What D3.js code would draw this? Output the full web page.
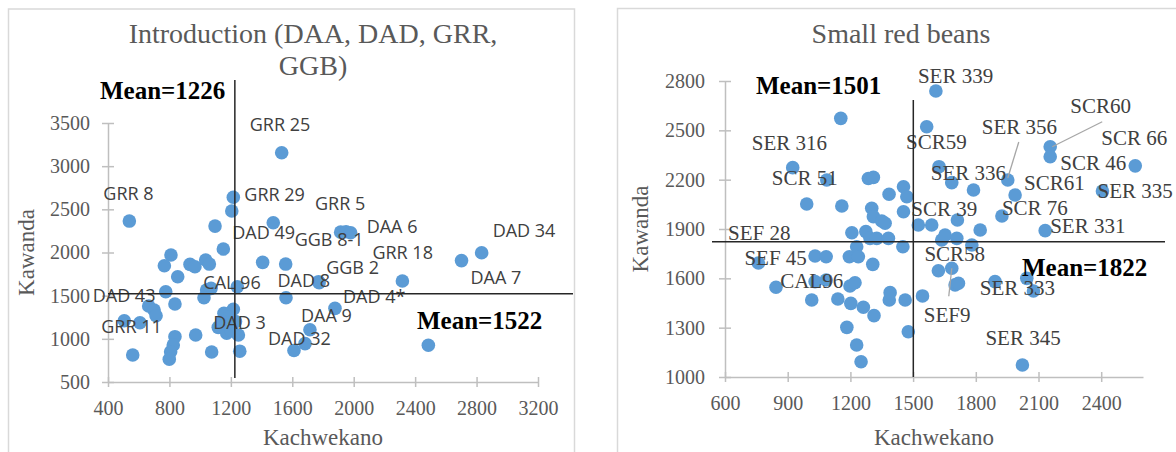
<!DOCTYPE html>
<html>
<head>
<meta charset="utf-8">
<title>Kachwekano vs Kawanda</title>
<script src="https://d3js.org/d3.v7.min.js"></script>
<style>
  body { margin: 0; background: #fff; }
  svg { display: block; }
</style>
</head>
<body>
<script>
// ---- data: Introduction (DAA, DAD, GRR, GGB) ----
var leftName = ["GRR 8","GRR 25","GRR 29","","","DAD 49","","","","","","","","","","",
  "GGB 8-1","GRR 5","DAA 6","DAD 8","GGB 2","GRR 18","DAD 34","DAA 7","","CAL 96","","","","","",
  "DAD 43","","","GRR 11","","","","","","","","","",
  "DAD 4*","DAA 9","DAD 32","","","DAD 3","","","","","","","",""];
var leftKach = [539,1531,1216,1206,1097,1476,1151,810,767,934,966,1036,1060,854,1407,1557,
  1915,1950,1980,1771,1775,2317,2833,2702,1559,1242,1042,1071,1025,776,836,
  665,700,713,506,608,836,825,808,799,561,971,1075,1258,
  1878,1715,1683,1611,2486,1216,1155,1118,1173,1249,1190,1140,1230,1200];
var leftKaw = [2364,3155,2640,2480,2306,2345,2040,1971,1847,1862,1835,1913,1866,1719,1886,1866,
  2236,2240,2228,1662,1650,1670,1997,1906,1476,1604,1565,1585,1476,1546,1403,
  1380,1334,1268,1210,1187,1025,928,851,763,813,1044,847,857,
  1353,1105,945,865,925,1342,1295,1133,1064,1044,1250,1200,1200,1100];
var leftMeans = [1226, 1522];
var leftXTicks = [400,800,1200,1600,2000,2400,2800,3200];
var leftYTicks = [500,1000,1500,2000,2500,3000,3500];

// ---- data: Small red beans ----
var rightName = ["SER 339","","","SER 316","SCR 51","","","","","","","","","","","","","","","",
  "","","","","","SEF 45","","CAL96","SEF 28","","","","","","","","","","","",
  "SCR59","SER 336","","SER 356","SCR60","SCR 46","SCR 66","SER 335","SCR61","SCR 76","SER 331","",
  "","","","SCR 39","","","","","","","","SCR58","SEF9","","","","SER 333","","","","","","SER 345"];
var rightKach = [1609,1154,1565,924,1087,991,1159,1286,1310,1385,1302,1310,1350,1366,1207,1274,1294,1326,1382,1230,
  1195,1238,1307,1031,1084,760,1031,1084,844,1198,1222,1015,1140,1202,1262,1313,1386,1183,1230,1251,
  1624,1685,1789,1953,2156,2156,2563,2406,1988,1925,2132,1712,
  1454,1470,1454,1525,1589,1821,1637,1653,1709,1781,1451,1621,1685,1701,1717,1892,2044,2076,1390,1462,1545,1477,2023];
var rightKaw = [2739,2573,2522,2273,2198,2052,2040,2207,2214,2111,2026,1975,1949,1935,1877,1884,1843,1843,1843,1792,
  1731,1731,1685,1736,1731,1693,1580,1590,1546,1553,1573,1468,1474,1448,1424,1373,1468,1302,1195,1093,
  2279,2182,2137,2198,2400,2339,2284,2131,2107,1979,1890,1955,
  2157,2096,2005,1924,1924,1894,1833,1863,1843,1803,1792,1646,1661,1560,1570,1580,1600,1523,1513,1468,1493,1275,1073,1079];
var rightMeans = [1501, 1822];
var rightXTicks = [600,900,1200,1500,1800,2100,2400];
var rightYTicks = [1000,1300,1600,1900,2200,2500,2800];

// label placement (px offsets from the point: start x, centre y)
var labelPos = {
  "GRR 8":[-26,-28], "GRR 25":[-32,-29], "GRR 29":[11,-3], "GRR 5":[-31,-29], "DAA 6":[16,-7],
  "GGB 8-1":[-46,7], "DAD 49":[-41,9], "CAL 96":[-34,-5], "DAD 8":[-41,-2], "GGB 2":[7,-16],
  "GRR 18":[-30,-29], "DAD 34":[11,-23], "DAA 7":[9,16], "DAD 4*":[8,-12], "DAA 9":[-9,-15],
  "DAD 32":[-37,-6], "DAD 3":[-20,13], "DAD 43":[-56,-11], "GRR 11":[-23,5],
  "SER 339":[-18,-15], "SER 316":[-41,-25], "SCR 51":[-55,-2], "SCR59":[-33,-25], "SER 356":[-26,-53],
  "SCR60":[20,-41], "SCR 46":[10,6], "SCR 66":[-34,-28], "SER 335":[-5,0], "SCR61":[9,-12],
  "SER 336":[-21,-10], "SCR 39":[-7,-16], "SCR 76":[0,-8], "SER 331":[5,-5], "SCR58":[-14,-17],
  "SEF9":[-28,47], "SER 333":[-47,10], "SER 345":[-37,-27], "SEF 28":[-48,-54], "SEF 45":[-14,-5],
  "CAL96":[-46,1]
};
var leaders = { "SER 356":[0,-2,11,-38], "SCR60":[2,0,52,-25], "SEF9":[0,0,-3,28] };

var W = 1176, H = 452;
var svg = d3.select("body").append("svg").attr("width", W).attr("height", H);
var serif = "'Liberation Serif', 'Times New Roman', serif";
var sans = "'Open Sans', 'Noto Sans', sans-serif";

// panel frames
svg.append("rect").attr("x", 8.5).attr("y", 9).attr("width", 566).attr("height", 460)
  .attr("fill", "#fff").attr("stroke", "#d9d9d9").attr("stroke-width", 1.5);
svg.append("rect").attr("x", 617.5).attr("y", 8.5).attr("width", 580).attr("height", 460)
  .attr("fill", "#fff").attr("stroke", "#d9d9d9").attr("stroke-width", 1.5);

function panel(opt) {
  var x = d3.scaleLinear().domain(opt.xDomain).range(opt.xRange);
  var y = d3.scaleLinear().domain(opt.yDomain).range(opt.yRange);
  var g = svg.append("g");
  var x0 = opt.xRange[0], yb = opt.yRange[0];

  var xa = g.append("g").attr("transform", "translate(0," + yb + ")")
    .call(d3.axisBottom(x).tickValues(opt.xTicks).tickSizeOuter(0).tickFormat(d3.format("d")));
  var ya = g.append("g").attr("transform", "translate(" + x0 + ",0)")
    .call(d3.axisLeft(y).tickValues(opt.yTicks).tickSizeOuter(0).tickFormat(d3.format("d")));
  [xa, ya].forEach(function(a) {
    a.select(".domain").attr("stroke", "#bfbfbf").attr("stroke-width", 1.5);
    a.selectAll(".tick line").attr("stroke", "#bfbfbf").attr("stroke-width", 1.5);
    a.selectAll(".tick text").attr("fill", "#595959").style("font-family", serif).style("font-size", "20px");
  });
  xa.selectAll(".tick line").attr("y1", -5).attr("y2", 5);
  xa.selectAll(".tick text").attr("y", 19);
  ya.selectAll(".tick line").attr("x1", -6).attr("x2", 6);
  ya.selectAll(".tick text").attr("x", opt.yLabelGap);

  // points
  var pts = d3.range(opt.kach.length).map(function(i) {
    return { x: opt.kach[i], y: opt.kaw[i], name: opt.names[i] };
  });
  g.selectAll("circle.pt").data(pts).enter().append("circle")
    .attr("class", "pt")
    .attr("cx", function(d) { return x(d.x); })
    .attr("cy", function(d) { return y(d.y); })
    .attr("r", 6.8)
    .attr("fill", "#5b9bd5");

  // leader lines
  pts.filter(function(d) { return leaders[d.name]; }).forEach(function(d) {
    var l = leaders[d.name];
    g.append("line")
      .attr("x1", x(d.x) + l[0]).attr("y1", y(d.y) + l[1])
      .attr("x2", x(d.x) + l[2]).attr("y2", y(d.y) + l[3])
      .attr("stroke", "#a6a6a6").attr("stroke-width", 1.3);
  });

  // data labels
  g.selectAll("text.lbl").data(pts.filter(function(d) { return d.name; })).enter().append("text")
    .attr("class", "lbl")
    .attr("x", function(d) { return x(d.x) + labelPos[d.name][0]; })
    .attr("y", function(d) { return y(d.y) + labelPos[d.name][1]; })
    .attr("dominant-baseline", "central")
    .attr("fill", "#404040")
    .style("font-family", opt.labelFont).style("font-size", opt.labelSize)
    .text(function(d) { return d.name; });

  // mean lines
  g.append("line")
    .attr("x1", x(opt.means[0])).attr("x2", x(opt.means[0]))
    .attr("y1", opt.vLine[0]).attr("y2", opt.vLine[1])
    .attr("stroke", "#262626").attr("stroke-width", 1.5);
  g.append("line")
    .attr("y1", y(opt.means[1])).attr("y2", y(opt.means[1]))
    .attr("x1", opt.hLine[0]).attr("x2", opt.hLine[1])
    .attr("stroke", "#262626").attr("stroke-width", 1.5);
  opt.meanText.forEach(function(m, i) {
    g.append("text")
      .attr("x", m[0]).attr("y", m[1])
      .attr("dominant-baseline", "central")
      .attr("fill", "#000")
      .style("font-family", serif).style("font-weight", "bold").style("font-size", "25px")
      .text("Mean=" + opt.means[i]);
  });

  // titles
  var t = g.append("text").attr("text-anchor", "middle").attr("fill", "#595959")
    .style("font-family", serif).style("font-size", "28px");
  opt.title.forEach(function(line, i) {
    t.append("tspan").attr("x", opt.titleX).attr("y", opt.titleY + i * 32)
      .attr("dominant-baseline", "central").text(line);
  });
  g.append("text").attr("x", (opt.xRange[0] + opt.xRange[1]) / 2).attr("y", 437)
    .attr("text-anchor", "middle").attr("dominant-baseline", "central").attr("fill", "#595959")
    .style("font-family", serif).style("font-size", "23px").text("Kachwekano");
  g.append("text")
    .attr("transform", "translate(" + opt.yTitleX + "," + (opt.yRange[0] + opt.yRange[1]) / 2 + ") rotate(-90)")
    .attr("text-anchor", "middle").attr("dominant-baseline", "central").attr("fill", "#595959")
    .style("font-family", serif).style("font-size", "23px").text("Kawanda");
}

panel({
  kach: leftKach, kaw: leftKaw, names: leftName, means: leftMeans,
  xDomain: [400, 3200], yDomain: [500, 3500], xRange: [108, 538], yRange: [382, 123],
  xTicks: leftXTicks, yTicks: leftYTicks, yLabelGap: -18,
  labelFont: sans, labelSize: "18px",
  vLine: [80, 378], hLine: [108, 573],
  meanText: [[100, 90], [417, 320]],
  title: ["Introduction (DAA, DAD, GRR,", "GGB)"], titleX: 313, titleY: 33, yTitleX: 26
});
panel({
  kach: rightKach, kaw: rightKaw, names: rightName, means: rightMeans,
  xDomain: [600, 2600], yDomain: [1000, 2800], xRange: [725, 1143], yRange: [377, 81],
  xTicks: rightXTicks, yTicks: rightYTicks, yLabelGap: -20,
  labelFont: serif, labelSize: "21px",
  vLine: [100, 377], hLine: [712, 1165],
  meanText: [[756, 85], [1022, 267]],
  title: ["Small red beans"], titleX: 901, titleY: 33, yTitleX: 640
});
</script>
</body>
</html>
